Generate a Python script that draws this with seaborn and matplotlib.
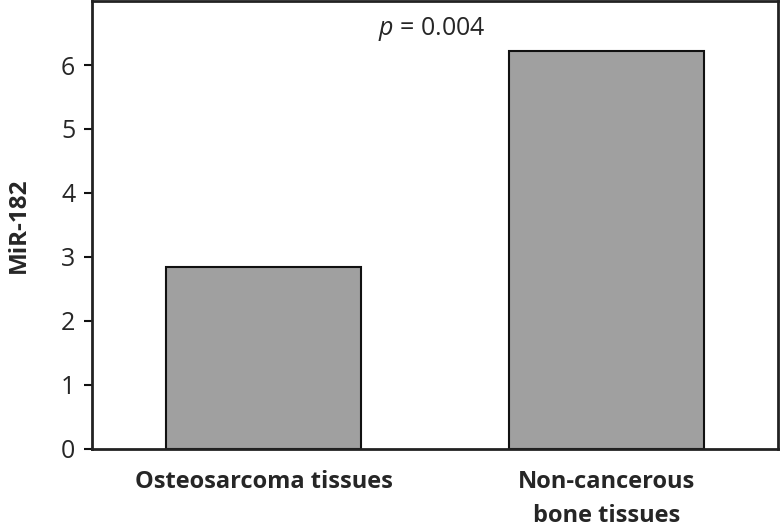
import matplotlib.pyplot as plt
import seaborn as sns
import pandas as pd

# Data
groups = ['Osteosarcoma tissues', 'Non-cancerous\nbone tissues']
mir182 = [2.84, 6.22]
p_label = '$p$ = 0.004'

df = pd.DataFrame({'group': groups, 'value': mir182})

sns.set_style('white')
plt.rcParams['font.family'] = ['Open Sans', 'DejaVu Sans']
plt.rcParams['mathtext.fontset'] = 'custom'
plt.rcParams['mathtext.it'] = 'Open Sans:italic'

fig = plt.figure(figsize=(7.8, 5.28), dpi=100, facecolor='white')
ax = fig.add_axes([0.118, 0.150, 0.879, 0.848])
ax.set_facecolor('white')

sns.barplot(data=df, x='group', y='value', color='#a0a0a0', width=0.57,
            edgecolor='#111111', linewidth=1.5, saturation=1, ax=ax)

# Significance label above the bars
ax.text(0.49, 6.56, p_label, ha='center', va='center', fontsize=18)

ax.set_xlim(-0.5, 1.5)
ax.set_ylim(0, 7)
ax.set_yticks(range(0, 7))
ax.set_xlabel('')
ax.set_ylabel('MiR-182', fontsize=17.5, fontweight='bold', labelpad=22)

ax.tick_params(axis='y', length=6, width=1.5, color='#111111', labelsize=18, pad=6, left=True)
ax.tick_params(axis='x', length=0, labelsize=17, pad=15)
for lbl in ax.get_xticklabels():
    lbl.set_fontweight('bold')
    lbl.set_linespacing(1.6)

for s in ax.spines.values():
    s.set_visible(True)
    s.set_color('#222222')
    s.set_linewidth(2)

plt.savefig('out.png', dpi=100, facecolor='white')
